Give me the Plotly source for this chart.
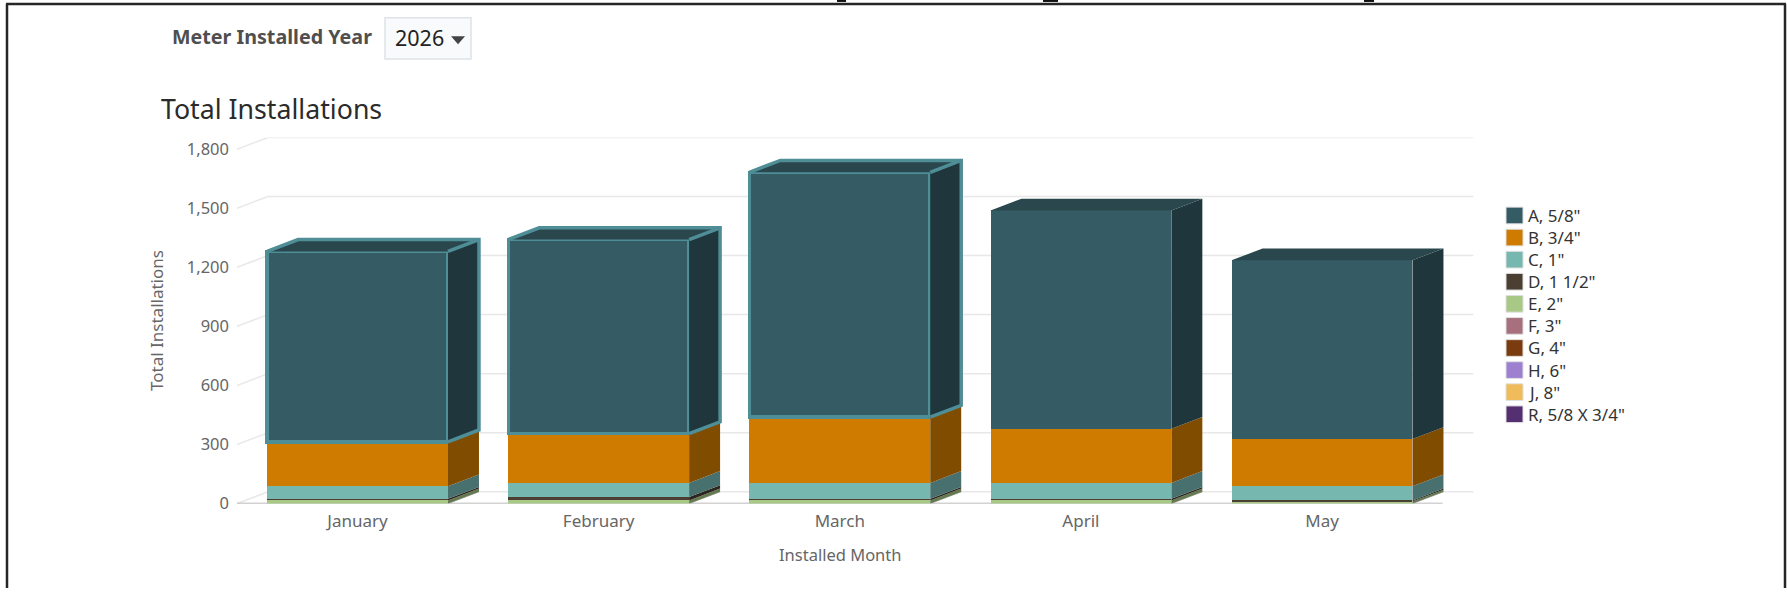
import plotly.graph_objects as go

W, H = 1787, 599
FONT = "Noto Sans"

months = ["January", "February", "March", "April", "May"]
selected_months = ["January", "February", "March"]
y_ticks = [0, 300, 600, 900, 1200, 1500, 1800]

a_58 = [967, 986, 1244, 1109, 908]
b_34 = [226, 250, 334, 275, 240]
c_1 = [64, 72, 81, 81, 72]
d_112 = [8, 17, 8, 8, 6]
e_2 = [16, 16, 16, 16, 10]
f_3 = [0, 0, 0, 0, 0]
g_4 = [0, 0, 0, 0, 0]
h_6 = [0, 0, 0, 0, 0]
j_8 = [0, 0, 0, 0, 0]
r_58x34 = [0, 0, 0, 0, 0]

names = ['A, 5/8"', 'B, 3/4"', 'C, 1"', 'D, 1 1/2"', 'E, 2"', 'F, 3"', 'G, 4"', 'H, 6"', 'J, 8"', 'R, 5/8 X 3/4"']
values = [a_58, b_34, c_1, d_112, e_2, f_3, g_4, h_6, j_8, r_58x34]
front_colors = ["#355c65", "#cf7b00", "#76b7b0", "#4b3f33", "#a8c985", "#a8707f", "#7a3c0e", "#9d80d0", "#f0bb5a", "#542f72"]
side_colors = ["#1f373c", "#7f4c00", "#48706e", "#2d2620", "#65794f", "#65434c", "#492408", "#5e4d7d", "#907036", "#321c44"]
top_color = "#2a474d"
outline = "#4f8d97"

BAR_W = 0.75
DX, DY = 0.1285, 60
positions = list(range(len(months)))
picked = [m in selected_months for m in months]

fig = go.Figure()

# Stacked from the last series up to A, which sits on top
n = len(names)
for k in range(n - 1, -1, -1):
    fig.add_trace(go.Bar(
        x=positions, y=values[k], name=names[k], width=BAR_W,
        marker=dict(color=front_colors[k],
                    line=dict(color=outline, width=[3.5 if (p and k == 0) else 0 for p in picked])),
        showlegend=False,
    ))

# Extruded side faces, from the same stacked values
base = [0] * len(months)
for k in range(n - 1, -1, -1):
    xs, ys = [], []
    for i, v in enumerate(values[k]):
        y0, y1 = base[i], base[i] + v
        if v > 0:
            x1 = i + BAR_W / 2
            xs += [x1, x1 + DX, x1 + DX, x1, x1, None]
            ys += [y0, y0 + DY, y1 + DY, y1, y0, None]
        base[i] = y1
    if xs:
        fig.add_trace(go.Scatter(x=xs, y=ys, mode="lines", line=dict(width=0), fill="toself",
                                 fillcolor=side_colors[k], hoverinfo="skip", showlegend=False))

# Top faces and the highlight of the selected months
tx, ty, ox, oy = [], [], [], []
for i, total in enumerate(base):
    x0, x1 = i - BAR_W / 2, i + BAR_W / 2
    tx += [x0, x0 + DX, x1 + DX, x1, x0, None]
    ty += [total, total + DY, total + DY, total, total, None]
    if picked[i]:
        y0 = total - values[0][i]
        ox += [x0, x0 + DX, x1 + DX, x1 + DX, x1, None, x1, x1 + DX, None]
        oy += [total, total + DY, total + DY, y0 + DY, y0, None, total, total + DY, None]
fig.add_trace(go.Scatter(x=tx, y=ty, mode="lines", line=dict(width=0), fill="toself",
                         fillcolor=top_color, hoverinfo="skip", showlegend=False))
fig.add_trace(go.Scatter(x=ox, y=oy, mode="lines", line=dict(width=3.5, color=outline),
                         hoverinfo="skip", showlegend=False))

shapes = []
# Back-wall gridlines and their slanted returns to the axis
xl, xr = -0.5, len(months) - 0.5
for t in y_ticks:
    shapes.append(dict(type="line", xref="x", yref="y", x0=xl + DX, x1=xr + DX, y0=t + DY, y1=t + DY,
                       line=dict(color="#e8e8e8", width=1.5), layer="below"))
    shapes.append(dict(type="line", xref="x", yref="y", x0=xl, x1=xl + DX, y0=t, y1=t + DY,
                       line=dict(color="#e8e8e8", width=1.5), layer="below"))
shapes.append(dict(type="line", xref="x", yref="y", x0=xl, x1=xr, y0=0, y1=0,
                   line=dict(color="#a6a6a6", width=1.5), layer="below"))
for i in positions:
    x1 = i + BAR_W / 2
    shapes.append(dict(type="line", xref="x", yref="y", x0=x1, x1=x1 + DX, y0=0, y1=DY,
                       line=dict(color="#a6a6a6", width=1), layer="below"))


def px(x):
    return x / W


def py(y):
    return 1 - y / H


def rect(x0, y0, x1, y1, **kw):
    return dict(type="rect", xref="paper", yref="paper", x0=px(x0), x1=px(x1), y0=py(y0), y1=py(y1), **kw)


# Page frame, and the tails of the page heading cut off above it
frame = "#262626"
shapes.append(dict(type="line", xref="paper", yref="paper", x0=px(7), x1=px(7), y0=py(4), y1=0, line=dict(color=frame, width=2.5)))
shapes.append(dict(type="line", xref="paper", yref="paper", x0=px(1785), x1=px(1785), y0=py(4), y1=0, line=dict(color=frame, width=2.5)))
shapes.append(dict(type="line", xref="paper", yref="paper", x0=px(6), x1=px(1786), y0=py(4), y1=py(4), line=dict(color=frame, width=2.5)))
for a, b in [(837, 846), (1043, 1058), (1364, 1374)]:
    shapes.append(rect(a, 0, b, 2, fillcolor="#111111", line=dict(width=0)))

# Year selector box and its arrow
shapes.append(rect(385, 18, 471, 60, fillcolor="#f8fafc", line=dict(color="#dde3e8", width=1.5)))
shapes.append(dict(type="path", xref="paper", yref="paper",
                   path=f"M {px(451)} {py(37)} L {px(465)} {py(37)} L {px(458)} {py(45)} Z",
                   fillcolor="#444444", line=dict(width=0)))

annotations = [
    dict(text="Meter Installed Year", x=px(170), y=py(37), xref="paper", yref="paper", xanchor="left", yanchor="middle",
         showarrow=False, font=dict(family=FONT, size=19.7, color="#4f4f4f", weight="bold")),
    dict(text="2026", x=px(393), y=py(38), xref="paper", yref="paper", xanchor="left", yanchor="middle",
         showarrow=False, font=dict(family=FONT, size=21.5, color="#222222")),
    dict(text="Total Installations", x=px(159), y=py(111), xref="paper", yref="paper", xanchor="left", yanchor="middle",
         showarrow=False, font=dict(family=FONT, size=26.7, color="#2b2b2b")),
    dict(text="Installed Month", x=2, y=py(565), xref="x", yref="paper", xanchor="center", yanchor="middle",
         showarrow=False, font=dict(family=FONT, size=16.5, color="#666666")),
]

# Legend
for i, (name, color) in enumerate(zip(names, front_colors)):
    yc = 219.5 + 22.5 * i
    shapes.append(rect(1506, yc - 8.5, 1523, yc + 8.5, fillcolor=color, line=dict(color="#e0e0e0", width=1)))
    annotations.append(dict(text=name, x=px(1525.5), y=py(yc), xref="paper", yref="paper", xanchor="left", yanchor="middle",
                            showarrow=False, font=dict(family=FONT, size=17, color="#333333")))

fig.update_layout(
    width=W, height=H, margin=dict(l=0, r=0, t=0, b=0),
    paper_bgcolor="white", plot_bgcolor="rgba(0,0,0,0)",
    barmode="stack", showlegend=False,
    shapes=shapes, annotations=annotations,
    font=dict(family=FONT),
    xaxis=dict(domain=[237 / W, 1473.6 / W], range=[xl, xr + DX], tickvals=positions, ticktext=months,
               showgrid=False, zeroline=False, showline=False, ticks="", ticklabelstandoff=5,
               tickfont=dict(family=FONT, size=17, color="#666666")),
    yaxis=dict(domain=[1 - 513 / H, 1 - 140 / H], range=[0, 1800 + DY], tickvals=y_ticks, tickformat=",",
               showgrid=False, zeroline=False, showline=False, ticks="", ticklabelstandoff=7,
               tickfont=dict(family=FONT, size=16.5, color="#666666"),
               title=dict(text="Total Installations", standoff=18, font=dict(family=FONT, size=17, color="#666666"))),
)

fig.write_html("out.html", config={"displayModeBar": False},
               post_script="document.body.style.margin='0';document.documentElement.style.overflow='hidden';")
